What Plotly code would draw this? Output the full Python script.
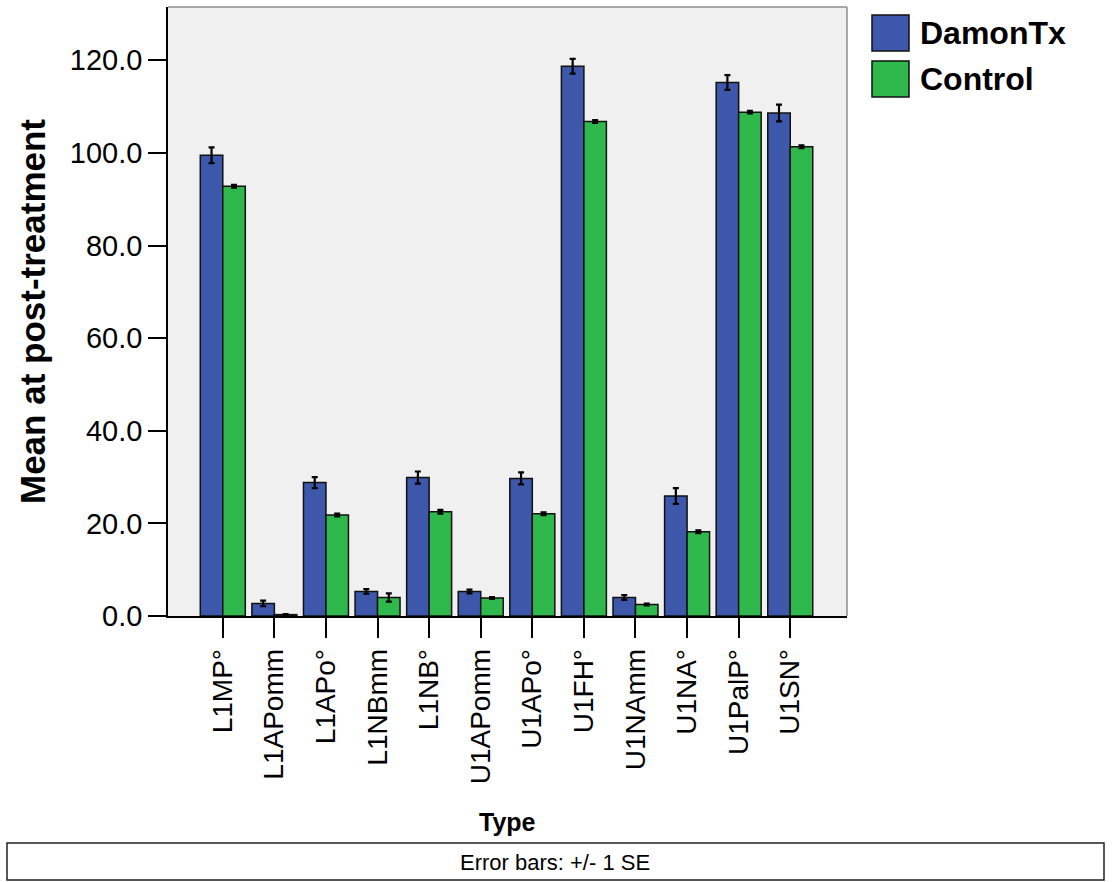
import plotly.graph_objects as go

# Measurement types on the x axis
categories = ["L1MP°", "L1APomm", "L1APo°", "L1NBmm", "L1NB°", "U1APomm",
              "U1APo°", "U1FH°", "U1NAmm", "U1NA°", "U1PalP°", "U1SN°"]

# Group means at post-treatment and their standard errors
damon_mean = [99.5, 2.7, 28.8, 5.3, 29.9, 5.3, 29.7, 118.7, 4.0, 25.9, 115.2, 108.6]
damon_se = [1.7, 0.6, 1.2, 0.5, 1.3, 0.4, 1.3, 1.6, 0.5, 1.7, 1.6, 1.8]
control_mean = [92.8, 0.3, 21.8, 4.0, 22.5, 3.9, 22.1, 106.8, 2.5, 18.2, 108.8, 101.3]
control_se = [0.3, 0.1, 0.3, 0.9, 0.4, 0.2, 0.3, 0.3, 0.2, 0.3, 0.3, 0.3]

y_ticks = [0, 20, 40, 60, 80, 100, 120]

BLUE = "#3d58aa"
GREEN = "#2fb84b"
FONT = "Liberation Sans, Arial, sans-serif"

fig = go.Figure()
for name, means, ses, color in [("DamonTx", damon_mean, damon_se, BLUE),
                                ("Control", control_mean, control_se, GREEN)]:
    fig.add_trace(go.Bar(
        name=name, x=categories, y=means,
        marker=dict(color=color, line=dict(color="#111111", width=1.5)),
        error_y=dict(type="data", array=ses, visible=True,
                     color="#000000", thickness=2.2, width=3),
        showlegend=False,
    ))

fig.update_layout(
    width=1112, height=882,
    margin=dict(l=168, r=265, t=7, b=266),
    paper_bgcolor="white",
    plot_bgcolor="#f0f0f0",
    barmode="group", bargap=0.128, bargroupgap=0,
    font=dict(family=FONT, color="#000000"),
)

fig.update_xaxes(
    type="category", range=[-1.062, 12.10],
    showline=True, linecolor="#000000", linewidth=1.5,
    ticks="outside", ticklen=20, tickwidth=1.5, tickcolor="#000000",
    tickangle=-90, tickfont=dict(size=28, family=FONT),
    showgrid=False, zeroline=False,
)
fig.update_yaxes(
    range=[0, 131.5], tickvals=y_ticks,
    ticktext=[f"{v:.1f}" for v in y_ticks],
    showline=True, linecolor="#000000", linewidth=1.5,
    ticks="outside", ticklen=18, tickwidth=1.5, tickcolor="#000000",
    tickfont=dict(size=29, family=FONT),
    showgrid=False, zeroline=False,
    title=dict(text="<b>Mean at post-treatment</b>", font=dict(size=35, family=FONT),
               standoff=14),
)

# Plot frame (top and right edges in grey)
fig.add_shape(type="line", xref="paper", yref="paper", x0=0, x1=1, y0=1, y1=1,
              line=dict(color="#8c8c8c", width=1.5), layer="above")
fig.add_shape(type="line", xref="paper", yref="paper", x0=1, x1=1, y0=0, y1=1,
              line=dict(color="#8c8c8c", width=1.5), layer="above")

# Legend drawn as swatches plus labels
pw = 1112 - 168 - 265
ph = 882 - 7 - 266
def px_x(x):
    return (x - 168) / pw
def px_y(y):
    return 1 - (y - 7) / ph

for (label, color, top) in [("DamonTx", BLUE, 15), ("Control", GREEN, 61)]:
    fig.add_shape(type="rect", xref="paper", yref="paper",
                  x0=px_x(872), x1=px_x(909), y0=px_y(top + 36), y1=px_y(top),
                  fillcolor=color, line=dict(color="#111111", width=1.5))
    fig.add_annotation(xref="paper", yref="paper", x=px_x(918), y=px_y(top + 18),
                       text=f"<b>{label}</b>", showarrow=False, xanchor="left",
                       yanchor="middle", font=dict(size=32, family=FONT))

# x-axis title
fig.add_annotation(xref="paper", yref="paper", x=px_x(507), y=px_y(822),
                   text="<b>Type</b>", showarrow=False, xanchor="center",
                   yanchor="middle", font=dict(size=25, family=FONT))

# Footnote box
fig.add_shape(type="rect", xref="paper", yref="paper",
              x0=px_x(7), x1=px_x(1104), y0=px_y(880), y1=px_y(843),
              line=dict(color="#222222", width=1.5), fillcolor="white")
fig.add_annotation(xref="paper", yref="paper", x=px_x(555), y=px_y(862),
                   text="Error bars: +/- 1 SE", showarrow=False, xanchor="center",
                   yanchor="middle", font=dict(size=22, family=FONT))

fig.write_html("out.html")
